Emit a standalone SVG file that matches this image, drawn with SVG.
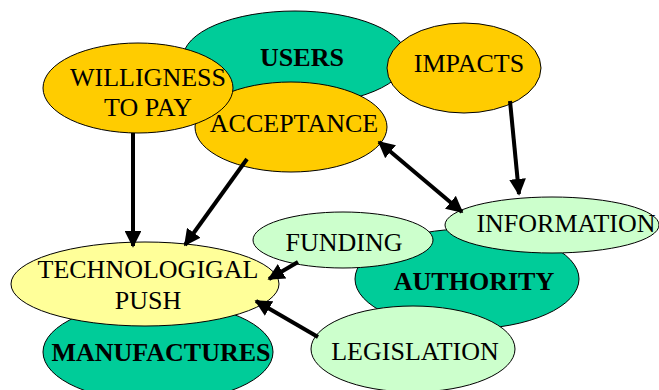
<svg xmlns="http://www.w3.org/2000/svg" width="659" height="390" viewBox="0 0 659 390">
<style>
.e{stroke:#000;stroke-width:1}
.g{fill:#00CC99}
.o{fill:#FFCC00}
.l{fill:#CCFFCC}
.y{fill:#FFFF99}
text{font-family:"Liberation Serif","Times New Roman",serif;font-size:26px;text-anchor:middle;fill:#000}
.b{font-weight:bold}
.c{stroke:#000;stroke-width:4;fill:none}
</style>
<defs>
<marker id="ah" viewBox="0 0 10 10" refX="9" refY="5" markerWidth="4.2" markerHeight="4.2" orient="auto-start-reverse" markerUnits="strokeWidth">
<path d="M0,0 L10,5 L0,10 z" fill="#000"/>
</marker>
</defs>
<g id="users"><ellipse class="e g" cx="295" cy="58" rx="112" ry="47"/><text class="b" x="302" y="66">USERS</text></g>
<g id="acceptance"><ellipse class="e o" cx="291" cy="127" rx="96" ry="45"/><text x="294" y="132">ACCEPTANCE</text></g>
<g id="willigness"><ellipse class="e o" cx="138" cy="88" rx="95" ry="45"/><text x="148" y="86">WILLIGNESS</text><text x="148" y="116">TO PAY</text></g>
<g id="impacts"><ellipse class="e o" cx="464" cy="68" rx="77" ry="45"/><text x="469" y="72">IMPACTS</text></g>
<g id="authority"><ellipse class="e g" cx="467" cy="279" rx="112" ry="50"/><text class="b" x="474" y="290">AUTHORITY</text></g>
<g id="information"><ellipse class="e l" cx="552" cy="225" rx="107" ry="28"/><text x="566" y="232">INFORMATION</text></g>
<g id="funding"><ellipse class="e l" cx="343" cy="240" rx="90" ry="28"/><text x="344" y="251">FUNDING</text></g>
<g id="legislation"><ellipse class="e l" cx="413" cy="349" rx="102" ry="43"/><text x="415" y="360">LEGISLATION</text></g>
<g id="manufactures"><ellipse class="e g" cx="158" cy="352" rx="115" ry="50"/><text class="b" x="161" y="361">MANUFACTURES</text></g>
<g id="technological-push"><ellipse class="e y" cx="145" cy="284" rx="134" ry="42"/><text x="148" y="278">TECHNOLOGIGAL</text><text x="148" y="309">PUSH</text></g>
<g id="connectors">
<line class="c" x1="133" y1="133" x2="133" y2="246" marker-end="url(#ah)"/>
<line class="c" x1="247" y1="159" x2="185" y2="245" marker-end="url(#ah)"/>
<line class="c" x1="510" y1="101" x2="519" y2="194" marker-end="url(#ah)"/>
<line class="c" x1="379" y1="142" x2="462" y2="212" marker-start="url(#ah)" marker-end="url(#ah)"/>
<line class="c" x1="298" y1="262" x2="269" y2="279" marker-end="url(#ah)"/>
<line class="c" x1="318" y1="337" x2="256" y2="301" marker-end="url(#ah)"/>
</g>
</svg>
